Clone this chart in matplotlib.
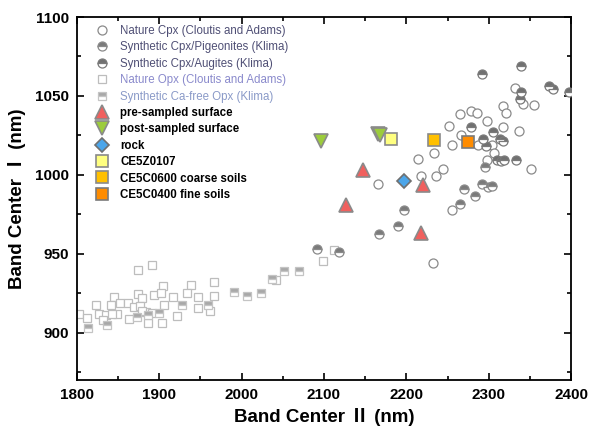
import matplotlib
matplotlib.use("Agg")
import matplotlib.pyplot as plt
from matplotlib.ticker import MultipleLocator

# ---------------- data (Band Center II, Band Center I) ----------------
nat_cpx_x = [2332, 2317, 2341.5, 2355, 2321, 2265, 2278, 2285.6, 2297.5, 2252, 2317, 2337,
             2267, 2256, 2286.7, 2303.5, 2306.6, 2298.4, 2351, 2233, 2214.6, 2245, 2236,
             2217.5, 2166, 2255.6, 2232]
nat_cpx_y = [1055, 1043.6, 1044.7, 1044.2, 1039, 1038.3, 1040.7, 1039, 1034.3, 1031, 1030, 1028,
             1025, 1019, 1019, 1019, 1013.7, 1009.5, 1003.8, 1014, 1010, 1003.8, 999.5,
             999.4, 994.5, 977.5, 944.3]

pig_x = [2091, 2118, 2167, 2190, 2197, 2265, 2284, 2270, 2291.5, 2299.6, 2304.5, 2295.7]
pig_y = [953.3, 950.8, 962.8, 967.8, 978, 981.7, 986.7, 991.2, 994, 992.3, 993.1, 1005]

aug_x = [2292.5, 2339, 2339, 2373.3, 2378.6, 2397, 2338, 2278, 2305.8, 2293, 2314, 2317,
         2296.4, 2310, 2314.6, 2318.7, 2333]
aug_y = [1064, 1069, 1052.3, 1056, 1054.3, 1052.3, 1048, 1030.5, 1027, 1022.5, 1022.5, 1021.2,
         1018.5, 1009.5, 1008.5, 1009.1, 1009.1]

nat_opx_x = [1874, 1891, 1904, 1939, 1874, 1845, 1893.5, 1902, 1878.5, 1917, 1852, 1862, 1823,
             1841, 1869.6, 1877, 1906, 1934, 1947, 1947, 1803, 1812.5, 1827, 1835, 1831, 1848,
             1863, 1883.5, 1891.5, 1886.6, 1903, 1921, 1842, 1878.6, 1966, 1966, 1961.5,
             2041.7, 2098.5, 2112.6]
nat_opx_y = [939.5, 942.6, 929.4, 929.9, 924.6, 922.5, 923.7, 925, 922, 922.5, 918.9, 919, 917.6,
             917.6, 916.3, 917, 917.6, 925, 922.5, 915.7, 912, 909.3, 912, 911.4, 908.3, 912,
             908.9, 913, 912.5, 906, 906, 910.4, 912, 914, 932, 923, 913.5,
             933.4, 945.5, 952.4]

syn_opx_x = [1813.8, 1836, 1872.5, 1886, 1900, 1928, 1958.7, 1991, 2006, 2023.5, 2036.5,
             2052, 2069.6]
syn_opx_y = [903, 905, 909.7, 911, 912.5, 917.8, 917.8, 925.5, 923, 925.2, 933.8, 938.8, 938.8]

pre_x = [2147, 2220, 2126.5, 2218]
pre_y = [1003.2, 993.5, 980.6, 963]
post_x = [2096, 2165, 2167.5]
post_y = [1021.7, 1026, 1025]
rock_x = [2197]
rock_y = [996.2]
z107_x = [2181]
z107_y = [1022.4]
c600_x = [2233.6]
c600_y = [1022.2]
c400_x = [2275]
c400_y = [1020.7]

labels = ["Nature Cpx (Cloutis and Adams)", "Synthetic Cpx/Pigeonites (Klima)",
          "Synthetic Cpx/Augites (Klima)", "Nature Opx (Cloutis and Adams)",
          "Synthetic Ca-free Opx (Klima)", "pre-sampled surface", "post-sampled surface",
          "rock", "CE5Z0107", "CE5C0600 coarse soils", "CE5C0400 fine soils"]

plt.rcParams['font.family'] = ['Liberation Sans', 'Noto Sans CJK SC', 'DejaVu Sans']

fig = plt.figure(figsize=(5.9, 4.33), dpi=100)
ax = fig.add_axes([0.1305, 0.1224, 0.8373, 0.8383])

ms_small = 6.0
ms_big = 8.5
ax.plot(nat_opx_x, nat_opx_y, ls='none', marker='s', ms=ms_small, mfc='white', mec='#bdbdbd',
        mew=0.9, label=labels[3], zorder=2)
ax.plot(syn_opx_x, syn_opx_y, ls='none', marker='s', ms=ms_small, fillstyle='top', mfc='#a8a8a8',
        mfcalt='white', mec='#c4c4c4', mew=0.9, label=labels[4], zorder=2)
ax.plot(nat_cpx_x, nat_cpx_y, ls='none', marker='o', ms=ms_small + 0.5, mfc='white', mec='#8a8a8a',
        mew=0.9, label=labels[0], zorder=3)
ax.plot(pig_x, pig_y, ls='none', marker='o', ms=ms_small + 0.5, fillstyle='top', mfc='#7a7a7a',
        mfcalt='white', mec='#8a8a8a', mew=0.9, label=labels[1], zorder=3)
ax.plot(aug_x, aug_y, ls='none', marker='o', ms=ms_small + 0.5, fillstyle='top', mfc='#707070',
        mfcalt='white', mec='#7a7a7a', mew=0.9, label=labels[2], zorder=3)

ax.plot(pre_x, pre_y, ls='none', marker='^', ms=ms_big + 1, mfc='#f0605e', mec='#8a8a8a',
        mew=1.2, label=labels[5], zorder=5)
ax.plot(post_x, post_y, ls='none', marker='v', ms=ms_big + 1, mfc='#9ccc3c', mec='#8a8a8a',
        mew=1.2, label=labels[6], zorder=5)
ax.plot(rock_x, rock_y, ls='none', marker='D', ms=ms_big - 1, mfc='#4ca6ea', mec='#707070',
        mew=1.2, label=labels[7], zorder=5)
ax.plot(z107_x, z107_y, ls='none', marker='s', ms=ms_big, mfc='#ffff80', mec='#8a8a8a',
        mew=1.2, label=labels[8], zorder=5)
ax.plot(c600_x, c600_y, ls='none', marker='s', ms=ms_big, mfc='#ffc000', mec='#8a8a8a',
        mew=1.2, label=labels[9], zorder=5)
ax.plot(c400_x, c400_y, ls='none', marker='s', ms=ms_big, mfc='#ff8c00', mec='#7a7a7a',
        mew=1.2, label=labels[10], zorder=5)

ax.set_xlim(1800, 2400)
ax.set_ylim(870, 1100)
ax.xaxis.set_major_locator(MultipleLocator(100))
ax.xaxis.set_minor_locator(MultipleLocator(50))
ax.yaxis.set_major_locator(MultipleLocator(50))
ax.yaxis.set_minor_locator(MultipleLocator(25))
ax.tick_params(which='both', direction='in', top=True, right=True, width=1.2, colors='black')
ax.tick_params(which='major', length=5, labelsize=11, pad=6)
ax.tick_params(which='minor', length=3)
for lab in ax.get_xticklabels() + ax.get_yticklabels():
    lab.set_fontweight('bold')
for s in ax.spines.values():
    s.set_linewidth(1.3)

ax.set_xlabel("Band Center \u2161 (nm)", fontsize=13.5, fontweight='bold', labelpad=4)
ax.set_ylabel("Band Center \u2160 (nm)", fontsize=13.5, fontweight='bold', labelpad=6)

h, l = ax.get_legend_handles_labels()
hd = dict(zip(l, h))
leg = ax.legend([hd[x] for x in labels], labels, loc='upper left', frameon=False,
                fontsize=8.3, handlelength=1.2, handletextpad=1.0, labelspacing=0.38,
                borderaxespad=0.3, bbox_to_anchor=(0.02, 1.0))
txtcols = ['#4f4f75', '#4f4f75', '#4f4f75', '#8a8acc', '#8a9ac8']
for i, t in enumerate(leg.get_texts()):
    if i < 5:
        t.set_color(txtcols[i])
    else:
        t.set_color('black')
        t.set_fontweight('bold')

fig.savefig("out.png", dpi=100)
